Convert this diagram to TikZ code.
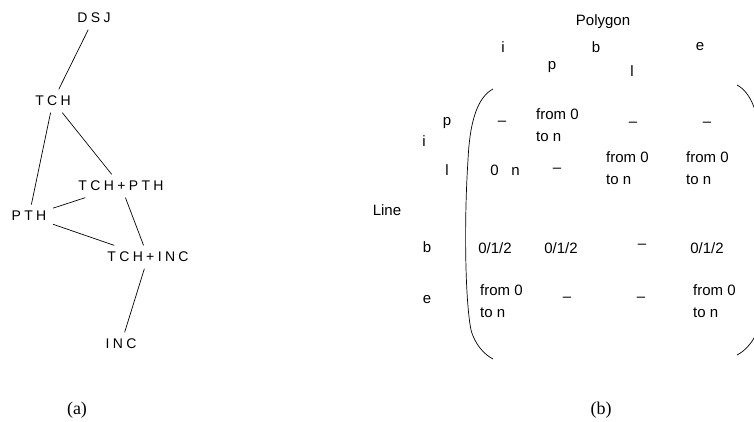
\documentclass[tikz,border=0pt]{standalone}
\usepackage{fontspec}
\setmainfont{Liberation Sans}
\newfontfamily\capfont{Liberation Serif}
\newfontfamily\spacedfont[LetterSpace=24]{Liberation Sans}

\tikzset{
  lat/.style={font=\spacedfont\fontsize{14}{16}\selectfont, inner sep=6.5pt},
  cell/.style={font=\fontsize{15}{22}\selectfont, inner sep=1pt, align=left},
  subcap/.style={font=\capfont\fontsize{18}{20}\selectfont},
  link/.style={line width=0.7pt}
}

\begin{document}
\begin{tikzpicture}[x=1pt,y=-1pt]
	\clip (0,0) rectangle (754,422);
	% (a) lattice
	\node[lat] (dsj) at (94,18) {DSJ};
	\node[lat] (tch) at (53,101) {TCH};
	\node[lat] (tchpth) at (121,186) {TCH+PTH};
	\node[lat] (pth) at (29,216) {PTH};
	\node[lat] (tchinc) at (148,257) {TCH+INC};
	\node[lat] (inc) at (121,344) {INC};
	\draw[link] (dsj) -- (tch);
	\draw[link] (tch) -- (pth);
	\draw[link] (tch) -- (tchpth);
	\draw[link] (tchpth) -- (pth);
	\draw[link] (pth) -- (tchinc);
	\draw[link] (tchpth) -- (tchinc);
	\draw[link] (tchinc) -- (inc);
	\node[subcap] (capa) at (77,410) {(a)};
	% (b) matrix
	\node[cell] (poly) at (603,22) {Polygon};
	\node[cell] (ci) at (503,47) {i};
	\node[cell] (cb) at (596,47) {b};
	\node[cell] (ce) at (700,47) {e};
	\node[cell] (cp) at (552,67) {p};
	\node[cell] (cl) at (632,71) {l};
	\node[cell] (line) at (387,210) {Line};
	\node[cell] (ri) at (424,141) {i};
	\node[cell] (rp) at (447,123) {p};
	\node[cell] (rl) at (447,170) {l};
	\node[cell] (rb) at (427,247) {b};
	\node[cell] (re) at (427,300) {e};
	% row p
	\node[cell] (m11) at (502,123) {--};
	\node[cell, anchor=west] (m12) at (535,125) {from 0\\to n};
	\node[cell] (m13) at (633,124) {--};
	\node[cell] (m14) at (707,124) {--};
	% row l
	\node[cell] (m21) at (505,170) {0\ \ \ n};
	\node[cell] (m22) at (557,170) {--};
	\node[cell, anchor=west] (m23) at (605,168) {from 0\\to n};
	\node[cell, anchor=west] (m24) at (685,168) {from 0\\to n};
	% row b
	\node[cell] (m31) at (495,248) {0/1/2};
	\node[cell] (m32) at (561,248) {0/1/2};
	\node[cell] (m33) at (642,246) {--};
	\node[cell] (m34) at (707,248) {0/1/2};
	% row e
	\node[cell, anchor=west] (m41) at (479,301) {from 0\\to n};
	\node[cell] (m42) at (567,299) {--};
	\node[cell] (m43) at (641,299) {--};
	\node[cell, anchor=west] (m44) at (692,301) {from 0\\to n};
	% brackets
	\draw[link] (493,89) .. controls (480,96) and (470,115) .. (468,160)
		.. controls (464,220) and (465,300) .. (471,330)
		.. controls (475,345) and (485,355) .. (493,359);
	\draw[link] (737,85) .. controls (750,92) and (760,111) .. (762,156)
		.. controls (766,216) and (765,296) .. (759,326)
		.. controls (755,341) and (745,351) .. (737,355);
	\node[subcap] (capb) at (601,410) {(b)};
\end{tikzpicture}
\end{document}
